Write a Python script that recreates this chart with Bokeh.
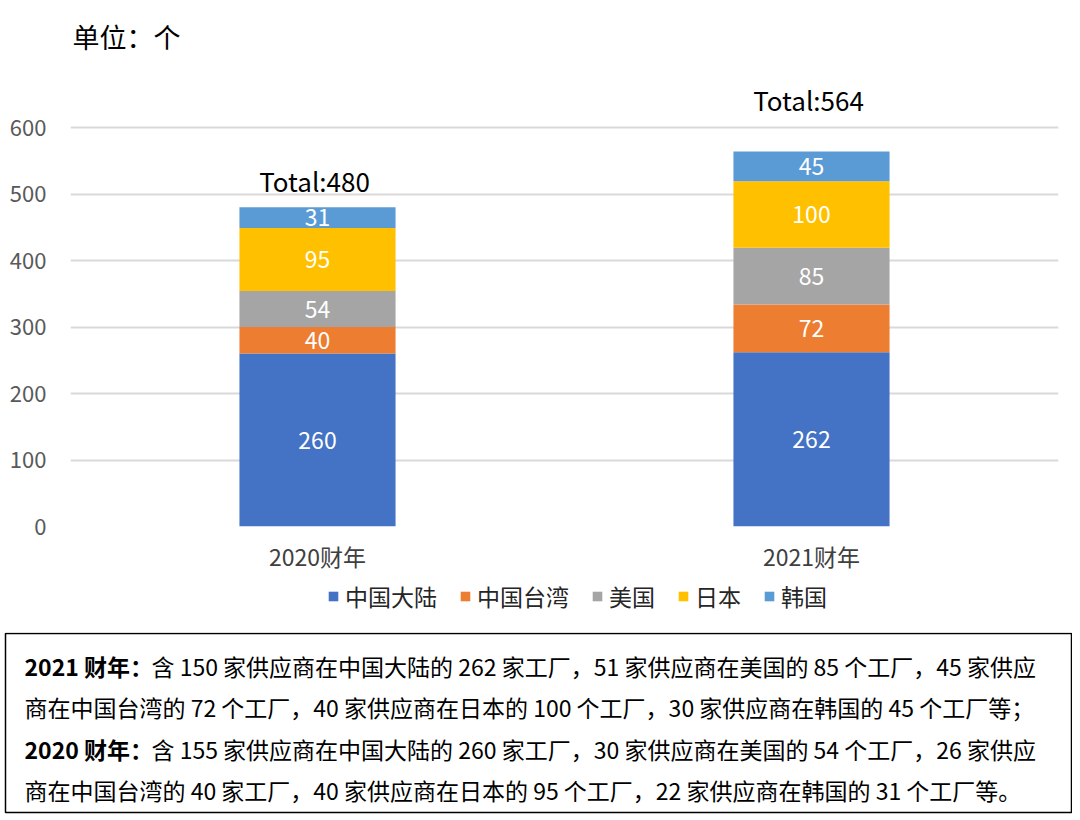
from bokeh.plotting import figure
from bokeh.layouts import column, row
from bokeh.models import (ColumnDataSource, FixedTicker, Legend, LegendItem,
                          Range1d, FactorRange)
from bokeh.core.properties import value
from bokeh.embed import file_html
from bokeh.resources import INLINE

# ---------------- data ----------------
categories = ["2020财年", "2021财年"]
series = ["中国大陆", "中国台湾", "美国", "日本", "韩国"]
mainland = [260, 262]
taiwan = [40, 72]
usa = [54, 85]
japan = [95, 100]
korea = [31, 45]
y_ticks = [0, 100, 200, 300, 400, 500, 600]
unit_label = "单位：个"
note_prefix = ["2021 财年：", "", "2020 财年：", ""]
note_text = [
    "含 150 家供应商在中国大陆的 262 家工厂，51 家供应商在美国的 85 个工厂，45 家供应",
    "商在中国台湾的 72 个工厂，40 家供应商在日本的 100 个工厂，30 家供应商在韩国的 45 个工厂等；",
    "含 155 家供应商在中国大陆的 260 家工厂，30 家供应商在美国的 54 个工厂，26 家供应",
    "商在中国台湾的 40 家工厂，40 家供应商在日本的 95 个工厂，22 家供应商在韩国的 31 个工厂等。",
]

# ---------------- styles ----------------
colors = ["#4472C4", "#ED7D31", "#A5A5A5", "#FFC000", "#5B9BD5"]
FONT = "Noto Sans CJK SC"
total_offsets = [-27, -52]   # screen px above bar top (as placed in original)

values = [mainland, taiwan, usa, japan, korea]
data = {"cat": categories}
for name, vals in zip(series, values):
    data[name] = vals
source = ColumnDataSource(data)

# ---------------- main chart ----------------
p = figure(width=1072, height=575,
           x_range=FactorRange(*categories),
           y_range=Range1d(0, 757.9),
           output_backend="svg", toolbar_location=None,
           min_border_left=70, min_border_right=14,
           min_border_top=22, min_border_bottom=49)
p.outline_line_color = None
p.background_fill_color = "white"

rs = p.vbar_stack(series, x="cat", width=0.316, color=colors,
                  line_color=None, source=source)

# segment labels
lx, ly, lt = [], [], []
for i, c in enumerate(categories):
    bottom = 0
    for vals in values:
        v = vals[i]
        lx.append(c)
        ly.append(bottom + v / 2)
        lt.append(str(v))
        bottom += v
p.text(x=lx, y=ly, text=lt, text_align="center", text_baseline="middle",
       text_color="white", text_font=value(FONT), text_font_size="23px")

# totals
totals = [sum(v[i] for v in values) for i in range(len(categories))]
tsrc = ColumnDataSource(dict(x=categories, y=totals,
                             t=["Total:%d" % t for t in totals],
                             yo=total_offsets))
p.text(x="x", y="y", text="t", y_offset="yo", x_offset=-3, source=tsrc,
       text_align="center", text_baseline="middle",
       text_color="#000000", text_font=value(FONT), text_font_size="26px")

# unit label (top-left)
p.text(x=[categories[0]], y=[737], text=[unit_label], x_offset=-245,
       text_align="left", text_baseline="middle", text_color="#000000",
       text_font=value(FONT), text_font_size="27px")

# axes
p.yaxis.ticker = FixedTicker(ticks=y_ticks)
for ax in (p.xaxis, p.yaxis):
    ax.axis_line_color = None
    ax.major_tick_line_color = None
    ax.minor_tick_line_color = None
    ax.major_label_text_font = FONT
    ax.major_label_text_color = "#595959"
p.yaxis.major_label_text_font_size = "22px"
p.yaxis.major_label_standoff = 18
p.xaxis.major_label_text_font_size = "23px"
p.xaxis.major_label_text_color = "#404040"
p.xaxis.major_label_standoff = 6
p.xgrid.grid_line_color = None
p.ygrid.grid_line_color = "#D9D9D9"
p.ygrid.grid_line_width = 2

# ---------------- legend strip ----------------
lg = figure(width=1072, height=57,
            x_range=FactorRange(*categories), y_range=Range1d(10000, 10001),
            output_backend="svg", toolbar_location=None, min_border=0,
            x_axis_location=None, y_axis_location=None)
lg.xgrid.grid_line_color = None
lg.ygrid.grid_line_color = None
lg.outline_line_color = None
lrs = lg.vbar_stack(series, x="cat", width=0.316, color=colors,
                    line_color=None, source=source)
legend = Legend(items=[LegendItem(label=s, renderers=[r]) for s, r in zip(series, lrs)],
                orientation="horizontal", location=(327, 19),
                glyph_width=12, glyph_height=12, label_standoff=6, spacing=22,
                padding=0, margin=0, border_line_color=None,
                background_fill_alpha=0,
                label_text_font=FONT, label_text_font_size="23px",
                label_text_color="#262626")
lg.add_layout(legend, "center")

# ---------------- note box ----------------
q = figure(width=1072, height=182, x_range=Range1d(0, 1072), y_range=Range1d(182, 0),
           output_backend="svg", toolbar_location=None, min_border=0,
           x_axis_location=None, y_axis_location=None)
q.xgrid.grid_line_color = None
q.ygrid.grid_line_color = None
q.outline_line_color = None

q.quad(left=[5], right=[1071], top=[1], bottom=[180], fill_color=None,
       line_color="#000000", line_width=1.5)

line_y = [33, 74, 116, 157]
prefix_w = 127
px, py, pt = [], [], []
rx, ry, rt = [], [], []
for yy, pre, txt in zip(line_y, note_prefix, note_text):
    if pre:
        px.append(24); py.append(yy); pt.append(pre)
        rx.append(24 + prefix_w)
    else:
        rx.append(24)
    ry.append(yy); rt.append(txt)
q.text(x=px, y=py, text=pt, text_align="left", text_baseline="middle",
       text_color="#000000", text_font=value(FONT), text_font_size="23px",
       text_font_style="bold")
q.text(x=rx, y=ry, text=rt, text_align="left", text_baseline="middle",
       text_color="#000000", text_font=value(FONT), text_font_size="23px")

layout = column(p, row(lg), row(q), spacing=0)
open("out.html", "w").write(file_html(layout, INLINE))
